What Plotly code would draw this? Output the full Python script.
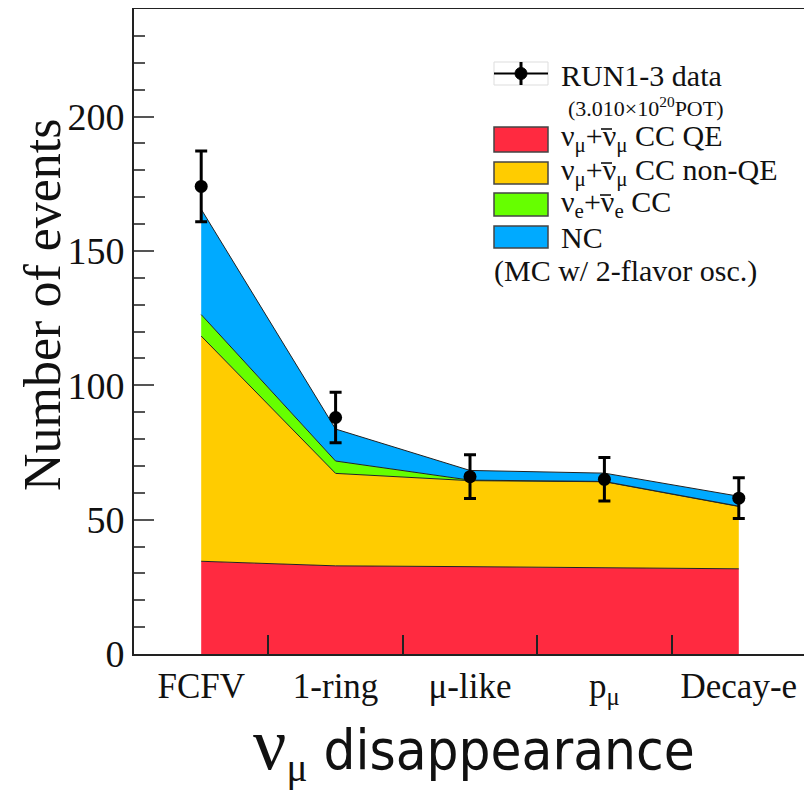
import plotly.graph_objects as go

# ---------------- data ----------------
categories = ["FCFV", "1-ring", "μ-like", "p<sub>μ</sub>", "Decay-e"]
cc_qe = [34.5, 32.8, 32.5, 32.0, 31.7]
cc_nonqe = [83.8, 34.4, 32.0, 32.1, 23.2]
nue_cc = [8.0, 4.6, 0.2, 0.1, 0.1]
nc = [39.2, 11.9, 3.6, 3.1, 3.7]
data_counts = [174, 88, 66, 65, 58]
data_errors = [13.2, 9.4, 8.1, 8.1, 7.6]
y_ticks = [0, 50, 100, 150, 200]

series = [
    ("ν<sub>μ</sub>+ν<sub>μ</sub> CC QE", cc_qe, "#ff2a40"),
    ("ν<sub>μ</sub>+ν<sub>μ</sub> CC non-QE", cc_nonqe, "#ffcc00"),
    ("ν<sub>e</sub>+ν<sub>e</sub> CC", nue_cc, "#66ff00"),
    ("NC", nc, "#00aaff"),
]

xs = list(range(len(categories)))
SERIF = "Liberation Serif, Times New Roman, serif"
NARROW = "Liberation Sans Narrow, DejaVu Sans Condensed, Roboto, sans-serif"

fig = go.Figure()
for name, vals, col in series:
    fig.add_trace(go.Scatter(
        x=xs, y=vals, name=name, mode="lines", stackgroup="mc",
        line=dict(color="#222222", width=1), fillcolor=col, showlegend=False,
    ))

fig.add_trace(go.Scatter(
    x=xs, y=data_counts, mode="markers", name="RUN1-3 data",
    marker=dict(color="black", size=13),
    error_y=dict(type="data", array=data_errors, color="black", thickness=3, width=6),
    showlegend=False,
))

# ---------------- layout ----------------
# page body has an 8px margin; figure placed at (8, 8) in the window
OFF = 8
W, H = 804, 797
L, T = 134 - OFF, 9 - OFF
R = W - (806 - OFF)
B = H - (654 - OFF)
PW, PH = W - L - R, H - T - B


def px(x):
    return (x - OFF - L) / PW


def py(y):
    return (H - B - (y - OFF)) / PH


fig.update_layout(
    width=W, height=H,
    margin=dict(l=L, r=R, t=T, b=B, autoexpand=False),
    paper_bgcolor="white", plot_bgcolor="white",
    showlegend=False,
    font=dict(family=SERIF, color="black"),
    xaxis=dict(
        range=[-0.5, 4.5], tickmode="array", tickvals=xs, ticktext=categories,
        ticks="", showgrid=False, zeroline=False,
        showline=True, linecolor="#222222", linewidth=2, mirror=True,
        tickfont=dict(family=SERIF, size=35, color="#111111"),
        minor=dict(tickmode="array", tickvals=[0.5, 1.5, 2.5, 3.5],
                   ticks="inside", ticklen=19, tickcolor="#222222", tickwidth=2, showgrid=False),
    ),
    yaxis=dict(
        range=[0, 240], tickmode="array", tickvals=y_ticks,
        ticks="inside", ticklen=20, tickwidth=2, tickcolor="#555555",
        showgrid=False, zeroline=False,
        showline=True, linecolor="#222222", linewidth=2, mirror=True,
        tickfont=dict(family=SERIF, size=38, color="#111111"),
        minor=dict(dtick=10, ticks="inside", ticklen=11, tickwidth=2, tickcolor="#555555", showgrid=False),
    ),
)

# y title
fig.add_annotation(
    text="Number of events", xref="paper", yref="paper",
    x=px(42), y=py(305), textangle=-90, showarrow=False,
    xanchor="center", yanchor="middle",
    font=dict(family=SERIF, size=52, color="#111111"),
)

# bottom title
fig.add_annotation(
    text='<span style="font-family:Liberation Serif"><span style="font-size:74px">ν</span><sub>μ</sub></span> disappearance',
    xref="paper", yref="paper", x=px(474), y=py(747), showarrow=False,
    xanchor="center", yanchor="middle",
    font=dict(family=NARROW, size=56, color="#111111"),
)

# ---------------- custom legend ----------------
bx0, bx1 = 494, 548
shapes = []
shapes.append(dict(type="rect", xref="paper", yref="paper", x0=px(bx0), x1=px(bx1),
                   y0=py(85), y1=py(62), line=dict(color="#dddddd", width=1), fillcolor="white"))
shapes.append(dict(type="line", xref="paper", yref="paper", x0=px(bx0), x1=px(bx1),
                   y0=py(73.5), y1=py(73.5), line=dict(color="black", width=2)))
shapes.append(dict(type="line", xref="paper", yref="paper", x0=px(521), x1=px(521),
                   y0=py(85), y1=py(62), line=dict(color="black", width=3)))
shapes.append(dict(type="circle", xref="paper", yref="paper", x0=px(515), x1=px(527),
                   y0=py(79.5), y1=py(67.5), line=dict(color="black", width=1), fillcolor="black"))
boxes_y = [(127, 152), (162, 184), (193, 216), (226, 248)]
for (name, vals, col), (ya, yb) in zip(series, boxes_y):
    shapes.append(dict(type="rect", xref="paper", yref="paper", x0=px(bx0), x1=px(bx1),
                       y0=py(yb), y1=py(ya), line=dict(color="#444444", width=1.5), fillcolor=col))
# overbars of the anti-neutrino symbols
for (xa, xb, yy) in [(601, 612, 129), (601, 612, 163), (600, 611, 195)]:
    shapes.append(dict(type="line", xref="paper", yref="paper", x0=px(xa), x1=px(xb),
                       y0=py(yy), y1=py(yy), line=dict(color="#111111", width=1.6)))
fig.update_layout(shapes=shapes)

leg_texts = [
    ("RUN1-3 data", 559, 76, 30),
    ("(3.010×10<sup>20</sup>POT)", 566, 107, 22),
    (series[0][0], 559, 138, 30),
    (series[1][0], 559, 172, 30),
    (series[2][0], 559, 204, 30),
    (series[3][0], 559, 237, 30),
    ("(MC w/ 2-flavor osc.)", 492, 271, 30),
]
for txt, x, y, s in leg_texts:
    fig.add_annotation(text=txt, xref="paper", yref="paper", x=px(x), y=py(y),
                       showarrow=False, xanchor="left", yanchor="middle",
                       font=dict(family=SERIF, size=s, color="#111111"))

fig.write_html("out.html")
